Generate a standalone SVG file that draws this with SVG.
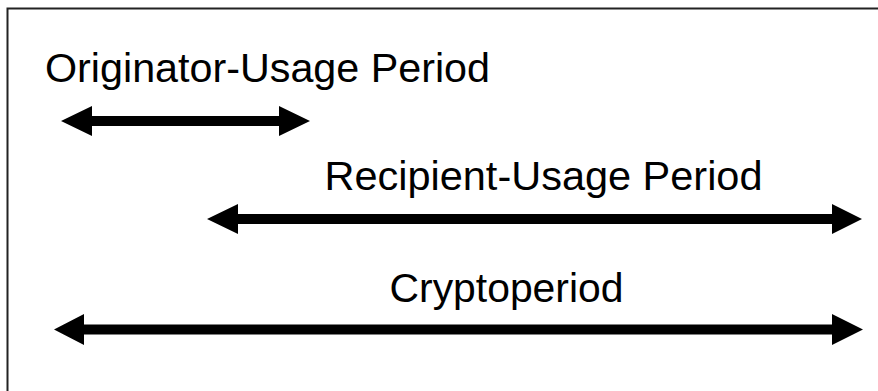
<svg xmlns="http://www.w3.org/2000/svg" width="878" height="391" viewBox="0 0 878 391">
<style>
.lbl{font-family:"Liberation Sans",Arial,sans-serif;font-size:41px;fill:#000;text-anchor:middle}
.arr{fill:#000}
</style>
<rect x="0" y="0" width="878" height="391" fill="#fff"/>
<rect x="7.5" y="8.5" width="890" height="400" fill="none" stroke="#222" stroke-width="2"/>
<g id="originator">
<text class="lbl" x="267.5" y="82" textLength="445" lengthAdjust="spacingAndGlyphs">Originator-Usage Period</text>
</g>
<g id="recipient">
<text class="lbl" x="543.5" y="190" textLength="438" lengthAdjust="spacingAndGlyphs">Recipient-Usage Period</text>
</g>
<g id="cryptoperiod">
<text class="lbl" x="506.5" y="302" textLength="234" lengthAdjust="spacingAndGlyphs">Cryptoperiod</text>
</g>
<g id="connectors">
<path class="arr" d="M61,121 L92,106 L92,116 L279,116 L279,106 L310,121 L279,136 L279,126 L92,126 L92,136 Z"/>
<path class="arr" d="M207,219 L238,204 L238,214 L832,214 L832,204 L862,219 L832,234 L832,224 L238,224 L238,234 Z"/>
<path class="arr" d="M54,329.5 L84,314 L84,324.5 L832,324.5 L832,314 L863,329.5 L832,345 L832,334.5 L84,334.5 L84,345 Z"/>
</g>
</svg>
